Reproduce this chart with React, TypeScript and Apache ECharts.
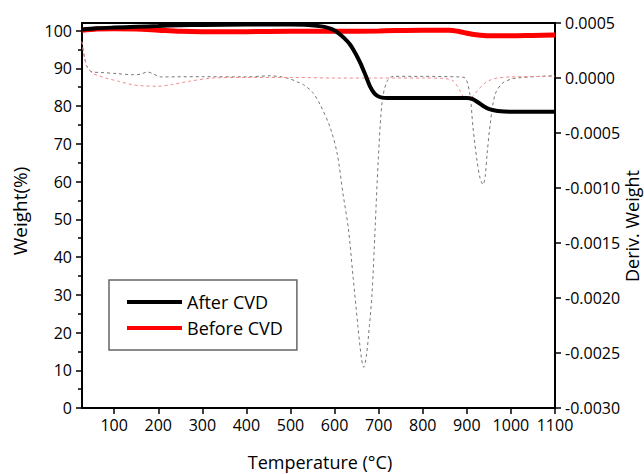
import React, { useEffect, useRef } from "react";
import * as echarts from "echarts";

// Weight curves (°C, %)
const afterT = [27, 60, 100, 150, 200, 250, 300, 400, 500, 540, 570, 585, 597, 610, 620, 635, 648, 658, 670, 680, 690, 697, 705, 720, 800, 900, 912, 925, 940, 953, 970, 1000, 1050, 1100];
const afterW = [100.3, 100.6, 100.8, 101.0, 101.2, 101.4, 101.5, 101.6, 101.6, 101.5, 101.1, 100.7, 100.2, 99.2, 98.2, 96.3, 93.8, 91.5, 88.2, 85.3, 83.4, 82.7, 82.3, 82.1, 82.1, 82.1, 81.9, 81.0, 79.8, 79.1, 78.7, 78.5, 78.5, 78.5];
const beforeT = [27, 60, 100, 150, 200, 250, 300, 400, 500, 600, 700, 800, 860, 880, 900, 920, 950, 1000, 1050, 1100];
const beforeW = [100.1, 100.4, 100.5, 100.4, 100.1, 99.8, 99.7, 99.7, 99.8, 99.8, 99.9, 100.1, 100.1, 99.8, 99.3, 98.9, 98.6, 98.6, 98.7, 98.8];

// Derivative curves (°C, deriv. weight)
const afterDtgT = [27, 33, 40, 50, 70, 107, 140, 160, 175, 190, 205, 300, 400, 454, 480, 500, 515, 529, 550, 567, 590, 606, 619, 631, 642, 653, 661, 666, 672, 679, 685, 692, 699, 708, 719, 733, 800, 880, 896, 907, 914, 923, 930, 937, 942, 946, 953, 964, 980, 1000, 1014, 1066, 1100];
const afterDtgV = [0.00033, 0.00018, 0.00009, 0.000055, 0.00005, 0.00004, 0.00003, 0.000035, 0.000055, 0.000035, 0.00001, 0.000012, 0.00001, 0.00002, 0.00001, -0.00001, -0.000035, -0.00006, -0.00013, -0.00024, -0.00045, -0.00069, -0.00105, -0.00136, -0.00181, -0.00226, -0.00255, -0.00263, -0.00253, -0.00225, -0.00196, -0.00136, -0.00075, -0.00021, -0.00003, 0.000015, 0.000015, 0.00001, 0.0, -0.00015, -0.00045, -0.00075, -0.00091, -0.00097, -0.00088, -0.00069, -0.00042, -0.00015, -0.00005, -0.00001, 0.0, 0.000015, 0.00002];
const beforeDtgT = [27, 33, 40, 50, 65, 80, 110, 140, 160, 197, 230, 270, 324, 400, 500, 600, 700, 800, 850, 870, 885, 895, 905, 915, 925, 940, 955, 970, 1000, 1100];
const beforeDtgV = [0.00033, 0.00018, 0.00009, 0.000045, 0.00002, 0.0, -0.00003, -0.00006, -0.00007, -0.000075, -0.00006, -0.00003, 0.0, 0.000005, 0.000005, 0.0, 0.0, 0.0, -0.000005, -0.00003, -0.00012, -0.000185, -0.00019, -0.00016, -0.00011, -0.00005, -0.000015, 0.0, 0.00001, 0.000015];

// Tick values
const xTicks = [100, 200, 300, 400, 500, 600, 700, 800, 900, 1000, 1100];
const leftTicks = [0, 10, 20, 30, 40, 50, 60, 70, 80, 90, 100];
const leftMinor = [5, 15, 25, 35, 45, 55, 65, 75, 85, 95];

const FONT = "'Open Sans', 'Noto Sans', sans-serif";

const pairs = (xs: number[], ys: number[]) => xs.map((x, i) => [x, ys[i]]);

export default function App() {
  const ref = useRef<HTMLDivElement>(null);
  useEffect(() => {
    const chart = echarts.init(ref.current!, null, { renderer: "svg" });
    chart.setOption({
      animation: false,
      backgroundColor: "#fff",
      grid: { left: 82, right: 89, top: 23, bottom: 66, show: true, borderColor: "#000", borderWidth: 2 },
      legend: {
        data: ["After CVD", "Before CVD"],
        orient: "vertical",
        left: 109,
        top: 280,
        padding: [12, 14, 12, 18],
        itemGap: 6,
        itemWidth: 55,
        itemHeight: 4,
        itemTextGap: 4,
        icon: "rect",
        borderColor: "#666",
        borderWidth: 1.5,
        textStyle: { fontSize: 18, color: "#000", fontFamily: FONT, lineHeight: 20 },
      },
      xAxis: {
        type: "value",
        min: 27,
        max: 1100,
        axisLine: { show: true, lineStyle: { color: "#000", width: 2 } },
        axisTick: { show: true, customValues: xTicks, length: 6, lineStyle: { color: "#000", width: 1.5 } },
        axisLabel: { customValues: xTicks, fontSize: 16, color: "#000", margin: 9, fontFamily: FONT, formatter: (v: number) => String(v) },
        splitLine: { show: false },
      },
      yAxis: [
        {
          type: "value",
          position: "left",
          min: 0,
          max: 102,
          axisLine: { show: true, lineStyle: { color: "#000", width: 2 } },
          axisTick: { show: true, customValues: leftTicks, length: 6, lineStyle: { color: "#000", width: 1.5 } },
          axisLabel: { customValues: leftTicks, fontSize: 16, color: "#000", margin: 10, fontFamily: FONT, formatter: (v: number) => String(v) },
          splitLine: { show: false },
        },
        {
          type: "value",
          position: "right",
          min: -0.003,
          max: 0.0005,
          interval: 0.0005,
          axisLine: { show: true, lineStyle: { color: "#000", width: 2 } },
          axisTick: { show: true, length: 6, lineStyle: { color: "#000", width: 1.5 } },
          axisLabel: {
            fontSize: 16,
            color: "#000",
            margin: 10,
            fontFamily: FONT,
            formatter: (v: number) => (Math.abs(v) < 1e-9 ? "0.0000" : v.toFixed(4)),
          },
          splitLine: { show: false },
        },
        {
          type: "value",
          position: "left",
          min: 0,
          max: 102,
          axisLine: { show: false },
          axisTick: { show: true, customValues: leftMinor, length: 4, lineStyle: { color: "#000", width: 1.5 } },
          axisLabel: { show: false },
          splitLine: { show: false },
        },
      ],
      graphic: [
        {
          type: "text",
          x: 20,
          y: 211,
          rotation: Math.PI / 2,
          style: { text: "Weight(%)", fontSize: 19, fontFamily: FONT, fill: "#000", align: "center", verticalAlign: "middle" },
        },
        {
          type: "text",
          x: 632,
          y: 226,
          rotation: Math.PI / 2,
          style: { text: "Deriv. Weight", fontSize: 18, fontFamily: FONT, fill: "#000", align: "center", verticalAlign: "middle" },
        },
        {
          type: "text",
          x: 320,
          y: 462,
          style: { text: "Temperature (°C)", fontSize: 18, fontFamily: FONT, fill: "#000", align: "center", verticalAlign: "middle" },
        },
      ],
      series: [
        {
          name: "After CVD DTG",
          type: "line",
          yAxisIndex: 1,
          symbol: "none",
          smooth: 0.3,
          data: pairs(afterDtgT, afterDtgV),
          lineStyle: { color: "#777", width: 1, type: [3, 3] },
          color: "#777",
          silent: true,
        },
        {
          name: "Before CVD DTG",
          type: "line",
          yAxisIndex: 1,
          symbol: "none",
          smooth: 0.3,
          data: pairs(beforeDtgT, beforeDtgV),
          lineStyle: { color: "#f08a8a", width: 1, type: [3, 3] },
          color: "#f08a8a",
          silent: true,
        },
        {
          name: "Before CVD",
          type: "line",
          yAxisIndex: 0,
          symbol: "none",
          smooth: 0.3,
          data: pairs(beforeT, beforeW),
          color: "#ff0000",
          lineStyle: { color: "#ff0000", width: 5 },
        },
        {
          name: "After CVD",
          type: "line",
          yAxisIndex: 0,
          symbol: "none",
          smooth: 0.3,
          data: pairs(afterT, afterW),
          color: "#000",
          lineStyle: { color: "#000", width: 4 },
        },
      ],
    });
    return () => chart.dispose();
  }, []);
  return <div ref={ref} style={{ position: "absolute", left: 0, top: 0, width: 644, height: 474 }} />;
}
